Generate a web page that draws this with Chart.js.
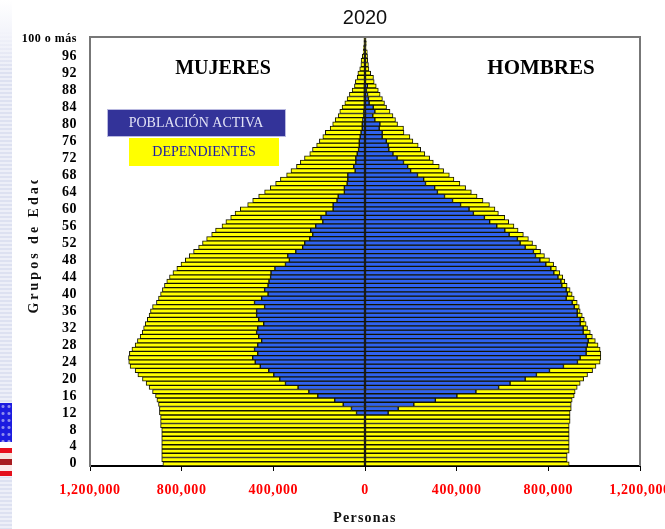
<!DOCTYPE html>
<html lang="es">
<head>
<meta charset="utf-8">
<title>Pirámide de población 2020</title>
<style>
html,body{margin:0;padding:0;background:#fff;width:665px;height:529px;overflow:hidden}
#wrap{position:relative;width:665px;height:529px}
#strip{position:absolute;left:0;top:0;width:12px;height:529px;
 background:linear-gradient(#ffffff 0,#f4f5fb 30px,rgba(255,255,255,0) 70px),repeating-linear-gradient(#dde1f1 0 2px,#edeff8 2px 4px)}
#flagBlue{position:absolute;left:0;top:403px;width:12px;height:39px;background-color:#1c1ce0;
 background-image:radial-gradient(circle,#8f8ff0 1px,rgba(0,0,0,0) 2px);background-size:6px 7px}
#flagStripes{position:absolute;left:0;top:442px;width:12px;height:35px;
 background:linear-gradient(#fff 0 6px,#e8101c 6px 11px,#f5e6e0 11px 17px,#a81c20 17px 23px,#fbeaea 23px 29px,#e4101c 29px 34px,#f0f0f8 34px)}
canvas{position:absolute;left:0;top:0}
</style>
<script src="https://cdn.jsdelivr.net/npm/chart.js@4"></script>
</head>
<body>
<div id="wrap">
<div id="strip"></div><div id="flagBlue"></div><div id="flagStripes"></div>
<canvas id="c" width="665" height="529"></canvas>
</div>
<script>
// Values in thousands of persons, index = age 0..100
const womenTotal = [882,887,887,887,887,887,887,887,887,892,892,892,897,897,901,908,914,927,942,955,971,991,1003,1025,1031,1032,1028,1017,1003,993,981,972,966,959,950,942,936,927,910,901,892,884,875,865,853,838,821,803,784,767,748,726,709,691,669,652,624,607,586,567,544,512,490,464,438,413,390,369,342,323,299,282,264,241,229,211,199,184,173,152,141,130,117,110,100,88,78,68,56,46,42,34,31,23,18,17,12,8,7,5,5];
const womenActive = [0,0,0,0,0,0,0,0,0,0,0,0,37,59,95,132,206,245,292,347,372,398,420,457,479,490,468,482,468,451,464,473,468,442,464,473,473,438,482,451,423,438,423,419,412,410,393,347,330,337,302,272,263,241,228,237,215,184,192,170,139,139,122,117,90,90,78,75,75,43,49,40,40,34,28,25,25,21,17,12,12,9,5,5,3,3,3,3,3,3,0,0,0,0,0,0,0,0,0,0,0];
const menTotal = [891,882,882,891,891,891,891,891,891,891,895,895,895,900,900,904,913,917,926,939,954,971,993,1008,1026,1029,1029,1026,1017,1005,992,983,971,965,957,948,939,935,926,913,904,895,882,872,863,850,835,823,805,783,766,748,731,713,691,668,650,627,610,582,567,543,515,489,464,439,414,388,368,343,324,298,282,261,243,232,209,196,170,168,142,133,122,109,94,85,76,66,58,49,40,37,25,17,15,12,11,10,5,6,5];
const menActive = [0,0,0,0,0,0,0,0,0,0,0,0,101,145,213,307,401,484,583,633,699,748,805,866,927,939,965,965,970,974,965,952,952,939,939,926,926,913,904,878,883,878,859,855,842,824,811,789,763,744,735,699,677,665,629,610,575,544,521,473,454,417,382,347,316,304,264,256,229,199,186,168,140,122,104,101,93,75,75,62,65,43,34,43,36,18,15,11,6,10,0,0,0,0,0,0,0,0,0,0,0];
const ages = womenTotal.map((_, i) => i);
const xTicks = [-1200000,-800000,-400000,0,400000,800000,1200000];
const titleText = '2020';
const xTitle = 'Personas';
const yTitle = 'Grupos de Edad';
const topAgeLabel = '100 o más';
const sideLabels = ['MUJERES','HOMBRES'];
const legendLabels = ['POBLACIÓN ACTIVA','DEPENDIENTES'];

const YELLOW = '#ffff00', BLUE = '#2f62f0', EDGE = '#141400', SERIF = '"Liberation Serif","Times New Roman",serif';

// Per-scale letter spacing for axis text (Chart.js has no font option for it)
function wrapText(scale, method, spacing, clipTop, shiftY){
  const original = scale[method];
  scale[method] = function(){
    const ctx = this.ctx;
    ctx.save();
    if (clipTop !== undefined){ ctx.beginPath(); ctx.rect(0, clipTop, 665, 529-clipTop); ctx.clip(); }
    if (shiftY) ctx.translate(0, shiftY);
    ctx.letterSpacing = spacing;
    original.apply(this, arguments);
    ctx.restore();
  };
}

const overlay = {
  id:'overlay',
  afterDatasetsDraw(chart){
    const {ctx, chartArea:a, scales:{x}} = chart;
    const z = x.getPixelForValue(0);
    ctx.save();
    ctx.strokeStyle = '#000'; ctx.lineWidth = 1.4;
    ctx.beginPath(); ctx.moveTo(z, a.top); ctx.lineTo(z, a.bottom); ctx.stroke();
    ctx.restore();
  },
  afterDraw(chart){
    const {ctx, chartArea:a} = chart;
    ctx.save();
    ctx.strokeStyle = '#777'; ctx.lineWidth = 2;
    ctx.beginPath(); ctx.moveTo(a.left, a.bottom); ctx.lineTo(a.left, a.top); ctx.lineTo(a.right, a.top); ctx.lineTo(a.right, a.bottom); ctx.stroke();
    ctx.textAlign = 'center'; ctx.textBaseline = 'middle';
    ctx.fillStyle = '#000'; ctx.font = 'bold 20px ' + SERIF;
    ctx.fillText(sideLabels[0], 223, 69);
    ctx.font = 'bold 21px ' + SERIF;
    ctx.fillText(sideLabels[1], 541, 69);
    ctx.fillStyle = '#333399'; ctx.fillRect(107, 109, 179, 28);
    ctx.strokeStyle = '#b9b9e0'; ctx.lineWidth = 1; ctx.strokeRect(107.5, 109.5, 178, 27);
    ctx.fillStyle = YELLOW; ctx.fillRect(129, 138, 150, 28);
    ctx.font = '14px ' + SERIF; ctx.fillStyle = '#e2e2f6';
    ctx.fillText(legendLabels[0], 196, 123);
    ctx.font = '14px ' + SERIF; ctx.fillStyle = '#1a1aa8';
    ctx.fillText(legendLabels[1], 204, 152);
    ctx.restore();
  }
};

const k = 1000;
const mk = (label, data, color) => ({
  label, data, backgroundColor:color, borderColor:EDGE, borderWidth:1,
  barPercentage:1, categoryPercentage:1, borderSkipped:false
});

new Chart(document.getElementById('c'), {
  type:'bar',
  data:{
    labels:ages,
    datasets:[
      mk('Mujeres población activa', womenActive.map(v => -v*k), BLUE),
      mk('Mujeres dependientes', womenTotal.map((v,i) => -(v-womenActive[i])*k), YELLOW),
      mk('Hombres población activa', menActive.map(v => v*k), BLUE),
      mk('Hombres dependientes', menTotal.map((v,i) => (v-menActive[i])*k), YELLOW)
    ]
  },
  plugins:[overlay],
  options:{
    indexAxis:'y',
    responsive:false,
    animation:false,
    layout:{padding:{left:0,right:25,top:0,bottom:0}},
    plugins:{
      legend:{display:false},
      tooltip:{enabled:false},
      title:{display:true,text:titleText,fullSize:false,color:'#111',
        font:{family:'"Liberation Sans",Arial,sans-serif',size:20,weight:'normal'},
        padding:{top:6,bottom:7}}
    },
    scales:{
      x:{
        type:'linear',stacked:true,min:-1200000,max:1200000,
        afterBuildTicks(s){ s.ticks = xTicks.map(value => ({value})); },
        afterFit(s){
          s.height = 63; s.paddingLeft = 0; s.paddingRight = 0;
          if (!s._spaced){ s._spaced = true; wrapText(s,'drawLabels','0.6px'); wrapText(s,'drawTitle','1.2px',undefined,1); }
        },
        ticks:{color:'#ff0000',maxRotation:0,minRotation:0,padding:11,autoSkip:false,
          font:{family:SERIF,size:14,weight:'bold'},
          callback:v => Math.abs(v).toLocaleString('en-US')},
        grid:{drawOnChartArea:false,drawTicks:true,tickLength:5,color:'#000'},
        border:{color:'#000',width:2},
        title:{display:true,text:xTitle,color:'#111',font:{family:SERIF,size:14,weight:'bold'},padding:{top:0,bottom:3}}
      },
      y:{
        type:'category',stacked:true,reverse:true,
        afterFit(s){
          s.width = 90; s.paddingTop = 0; s.paddingBottom = 0;
          if (!s._spaced){ s._spaced = true; wrapText(s,'drawLabels','0.5px'); wrapText(s,'drawTitle','3px',180,-8); }
        },
        ticks:{color:'#000',autoSkip:false,padding:5,
          font:ctx => ({family:SERIF,size:ctx.index===100?12:14,weight:'bold'}),
          callback(v,i){ const a = ages[i]; return a===100 ? topAgeLabel : (a%4===0 ? String(a) : ''); }},
        grid:{display:false},
        border:{color:'#777',width:2},
        title:{display:true,text:yTitle,color:'#111',font:{family:SERIF,size:14,weight:'bold'},padding:{top:26,bottom:0}}
      }
    }
  }
});
</script>
</body>
</html>
